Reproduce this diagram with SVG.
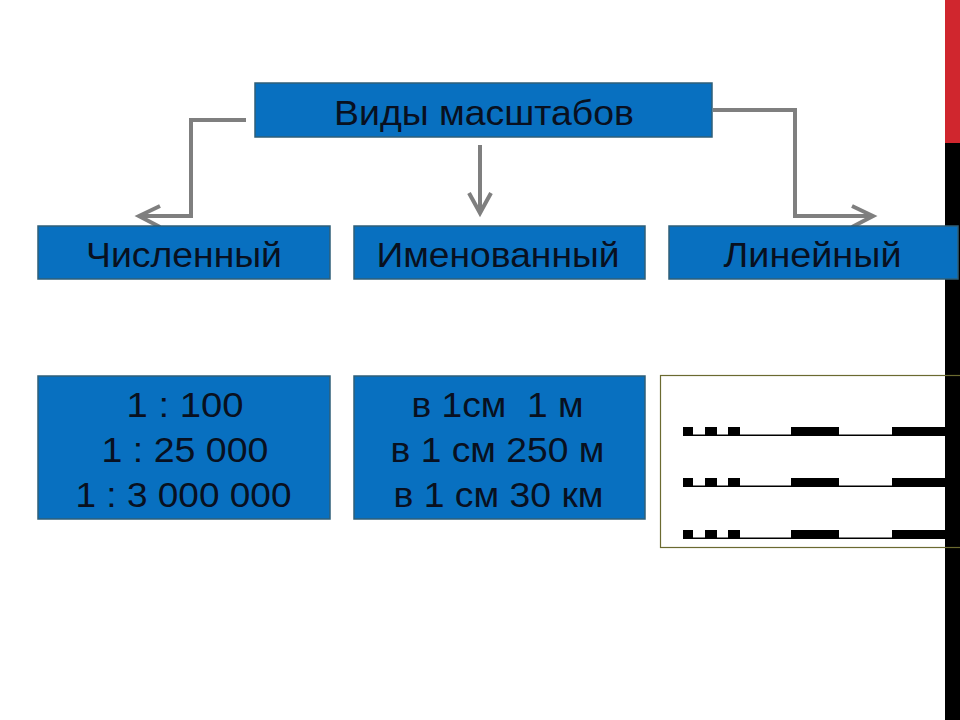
<svg xmlns="http://www.w3.org/2000/svg" width="960" height="720" viewBox="0 0 960 720">
<style>
.box{fill:#0870c0;stroke:#2f5f78;stroke-width:1.5}
.t{font-family:"Liberation Sans",Arial,sans-serif;font-size:35px;fill:#081020;text-anchor:middle}
.c{fill:none;stroke:#7f7f7f;stroke-width:4}
.blk{fill:#000}
</style>
<rect x="0" y="0" width="960" height="720" fill="#fff"/>
<rect x="945" y="0" width="15" height="143" fill="#d0262e"/>
<rect x="945" y="143" width="15" height="577" fill="#000"/>
<g id="connectors">
<polyline class="c" points="246,120 191,120 191,216 140,216"/>
<polyline class="c" points="160,206 139,216 160,227"/>
<polyline class="c" points="480,145 480,212"/>
<polyline class="c" points="469,193 480,213 491,193"/>
<polyline class="c" points="713,110 795,110 795,216 872,216"/>
<polyline class="c" points="852,206 873,216 852,227"/>
</g>
<g id="root"><rect class="box" x="255" y="83" width="457" height="54"/><text class="t" x="484" y="125" textLength="300" lengthAdjust="spacingAndGlyphs">Виды масштабов</text></g>
<g id="num"><rect class="box" x="38" y="226" width="292" height="53"/><text class="t" x="184" y="267" textLength="196" lengthAdjust="spacingAndGlyphs">Численный</text></g>
<g id="named"><rect class="box" x="354" y="226" width="291" height="53"/><text class="t" x="498" y="267" textLength="243" lengthAdjust="spacingAndGlyphs">Именованный</text></g>
<g id="lin"><rect class="box" x="669" y="226" width="289" height="53"/><text class="t" x="812.5" y="267" textLength="178" lengthAdjust="spacingAndGlyphs">Линейный</text></g>
<g id="numEx"><rect class="box" x="38" y="376" width="292" height="143"/>
<text class="t" x="185" y="417" textLength="117" lengthAdjust="spacingAndGlyphs">1 : 100</text><text class="t" x="185" y="462" textLength="167" lengthAdjust="spacingAndGlyphs">1 : 25 000</text><text class="t" x="183.5" y="507" textLength="216" lengthAdjust="spacingAndGlyphs">1 : 3 000 000</text></g>
<g id="namedEx"><rect class="box" x="354" y="376" width="291" height="143"/>
<text class="t" x="497.5" y="417" xml:space="preserve" textLength="172" lengthAdjust="spacingAndGlyphs">в 1см  1 м</text><text class="t" x="497.5" y="462" textLength="214" lengthAdjust="spacingAndGlyphs">в 1 см 250 м</text><text class="t" x="498.5" y="507" textLength="210" lengthAdjust="spacingAndGlyphs">в 1 см 30 км</text></g>
<g id="linEx">
<rect x="660.5" y="375.5" width="310" height="172" fill="none" stroke="#6b6a30" stroke-width="1.2"/>
<g id="bar1" transform="translate(0,427)">
<rect class="blk" x="683" y="0" width="10" height="9"/><rect class="blk" x="705" y="0" width="12" height="9"/><rect class="blk" x="728" y="0" width="12" height="9"/>
<rect class="blk" x="791" y="0" width="48" height="9"/><rect class="blk" x="892" y="0" width="60" height="9"/>
<rect class="blk" x="683" y="7.5" width="262" height="1.5"/></g>
<g id="bar2" transform="translate(0,478)">
<rect class="blk" x="683" y="0" width="10" height="9"/><rect class="blk" x="705" y="0" width="12" height="9"/><rect class="blk" x="728" y="0" width="12" height="9"/>
<rect class="blk" x="791" y="0" width="48" height="9"/><rect class="blk" x="892" y="0" width="60" height="9"/>
<rect class="blk" x="683" y="7.5" width="262" height="1.5"/></g>
<g id="bar3" transform="translate(0,530)">
<rect class="blk" x="683" y="0" width="10" height="9"/><rect class="blk" x="705" y="0" width="12" height="9"/><rect class="blk" x="728" y="0" width="12" height="9"/>
<rect class="blk" x="791" y="0" width="48" height="9"/><rect class="blk" x="892" y="0" width="60" height="9"/>
<rect class="blk" x="683" y="7.5" width="262" height="1.5"/></g>
</g>
</svg>
